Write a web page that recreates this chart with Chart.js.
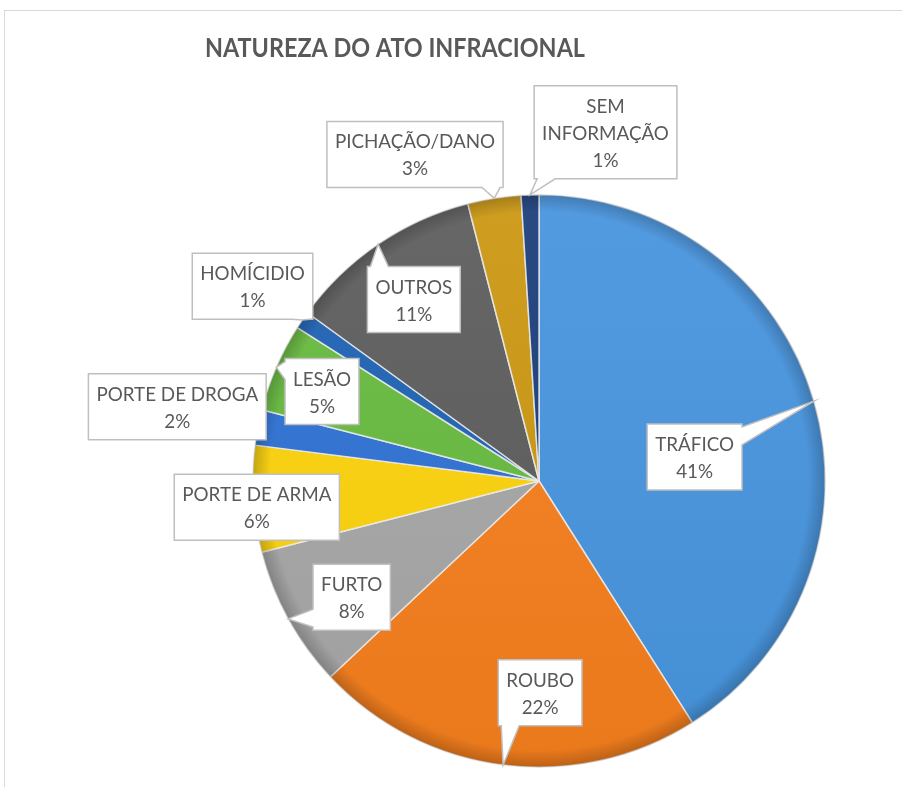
<!DOCTYPE html>
<html>
<head>
<meta charset="utf-8">
<script src="https://cdn.jsdelivr.net/npm/chart.js@4.4.1/dist/chart.umd.min.js"></script>
<style>
  html,body{margin:0;padding:0;background:#fff;overflow:hidden;}
  #wrap{position:relative;width:902px;height:787px;}
  #frame{position:absolute;left:4px;top:10px;width:1000px;height:1000px;border-left:1.5px solid #d9d9d9;border-top:1.5px solid #d9d9d9;box-sizing:border-box;}
  canvas{position:absolute;left:0;top:0;}
</style>
</head>
<body>
<div id="wrap">
  <div id="frame"></div>
  <canvas id="c" width="902" height="787"></canvas>
</div>
<script>
// ---- data ----
const chartTitle = 'NATUREZA DO ATO INFRACIONAL';
const categories = ['TRÁFICO','ROUBO','FURTO','PORTE DE ARMA','PORTE DE DROGA','LESÃO','HOMÍCIDIO','OUTROS','PICHAÇÃO/DANO','SEM INFORMAÇÃO'];
const percentages = [41,22,8,6,2,5,1,11,3,1];

// ---- styles / layout (not data) ----
const sliceColors = ['#4895df','#f67f1d','#a7a7a7','#fdd20c','#2f72d4','#68bb40','#1f63b4','#5d5d5d','#cc9812','#1b3e7b'];
const labelWrap = [false,false,false,false,false,false,false,false,false,true];
const calloutPlacement = [
  {dA: 7.4, r: 0.55},
  {dA: -7.5, r: 0.74},
  {dA: -3.0, r: 0.77},
  {dA: -1.7, r: 0.99},
  {dA: 0.8, r: 1.29},
  {dA: -1.0, r: 0.82},
  {dA: 0, r: 1.21},
  {dA: -0.4, r: 0.77},
  {dA: -11.8, r: 1.22},
  {dA: 12.6, r: 1.24}
];

function shade(hex, f){
  const n = parseInt(hex.slice(1),16);
  let r=(n>>16)&255,g=(n>>8)&255,b=n&255;
  if(f>0){r+= (255-r)*f; g+=(255-g)*f; b+=(255-b)*f;}
  else {r*=1+f; g*=1+f; b*=1+f;}
  return 'rgb('+Math.round(r)+','+Math.round(g)+','+Math.round(b)+')';
}

const titlePlugin = {
  id:'customTitle',
  afterDraw(chart){
    const ctx = chart.ctx;
    ctx.save();
    ctx.font = 'bold 26px Lato';
    ctx.fillStyle = '#595959';
    ctx.textAlign = 'left';
    ctx.textBaseline = 'alphabetic';
    const w = ctx.measureText(chartTitle).width;
    const targetW = 380;
    ctx.translate(205, 57);
    ctx.scale(targetW / w, 1);
    ctx.fillText(chartTitle, 0, 0);
    ctx.restore();
  }
};

const rimPlugin = {
  id:'rim',
  afterDatasetsDraw(chart){
    const arc = chart.getDatasetMeta(0).data[0];
    if(!arc) return;
    const {x,y,outerRadius:R} = arc.getProps(['x','y','outerRadius'], true);
    const ctx = chart.ctx;
    ctx.save();
    const g = ctx.createRadialGradient(x,y,R*0.94,x,y,R);
    g.addColorStop(0,'rgba(0,0,0,0)');
    g.addColorStop(1,'rgba(0,0,0,0.2)');
    ctx.beginPath();
    ctx.arc(x,y,R,0,Math.PI*2);
    ctx.fillStyle = g;
    ctx.fill();
    ctx.restore();
  }
};

const calloutPlugin = {
  id:'callouts',
  afterDraw(chart){
    const ctx = chart.ctx;
    const meta = chart.getDatasetMeta(0);
    const fontSize = 20, lineH = 27, padX = 8, padY = 6, wedge = 18;
    ctx.save();
    ctx.font = fontSize + 'px Lato';
    const sx = 0.94;
    meta.data.forEach((arc, i) => {
      const p = arc.getProps(['x','y','startAngle','endAngle','outerRadius'], true);
      const mid = (p.startAngle + p.endAngle)/2;
      const R = p.outerRadius;
      const pl = calloutPlacement[i];
      const a = mid + pl.dA*Math.PI/180;
      const cx = p.x + pl.r*R*Math.cos(a);
      const cy = p.y + pl.r*R*Math.sin(a);
      const tip = {x: p.x + R*Math.cos(mid), y: p.y + R*Math.sin(mid)};
      const lines = labelWrap[i] ? categories[i].split(' ') : [categories[i]];
      lines.push(percentages[i] + '%');
      let tw = 0;
      lines.forEach(l => tw = Math.max(tw, ctx.measureText(l).width*sx));
      const w = tw + padX*2, h = lines.length*lineH + padY*2;
      const x0 = cx - w/2, x1 = cx + w/2, y0 = cy - h/2, y1 = cy + h/2;
      const ex = tip.x < x0 ? x0 - tip.x : (tip.x > x1 ? tip.x - x1 : 0);
      const ey = tip.y < y0 ? y0 - tip.y : (tip.y > y1 ? tip.y - y1 : 0);
      let side = null;
      if (ex > 0 || ey > 0) {
        if (ex >= ey) side = tip.x < x0 ? 'left' : 'right';
        else side = tip.y < y0 ? 'top' : 'bottom';
      }
      const clamp = (v, lo, hi) => Math.max(lo, Math.min(hi, v));
      ctx.beginPath();
      ctx.moveTo(x0, y0);
      if (side === 'top') {
        const bx = clamp(tip.x, x0 + wedge/2 + 3, x1 - wedge/2 - 3);
        ctx.lineTo(bx - wedge/2, y0); ctx.lineTo(tip.x, tip.y); ctx.lineTo(bx + wedge/2, y0);
      }
      ctx.lineTo(x1, y0);
      if (side === 'right') {
        const by = clamp(tip.y, y0 + wedge/2 + 3, y1 - wedge/2 - 3);
        ctx.lineTo(x1, by - wedge/2); ctx.lineTo(tip.x, tip.y); ctx.lineTo(x1, by + wedge/2);
      }
      ctx.lineTo(x1, y1);
      if (side === 'bottom') {
        const bx = clamp(tip.x, x0 + wedge/2 + 3, x1 - wedge/2 - 3);
        ctx.lineTo(bx + wedge/2, y1); ctx.lineTo(tip.x, tip.y); ctx.lineTo(bx - wedge/2, y1);
      }
      ctx.lineTo(x0, y1);
      if (side === 'left') {
        const by = clamp(tip.y, y0 + wedge/2 + 3, y1 - wedge/2 - 3);
        ctx.lineTo(x0, by + wedge/2); ctx.lineTo(tip.x, tip.y); ctx.lineTo(x0, by - wedge/2);
      }
      ctx.closePath();
      ctx.fillStyle = '#ffffff';
      ctx.fill();
      ctx.lineWidth = 1.5;
      ctx.strokeStyle = '#bfbfbf';
      ctx.stroke();
      ctx.fillStyle = '#595959';
      ctx.textAlign = 'center';
      ctx.textBaseline = 'middle';
      lines.forEach((l, k) => {
        ctx.save();
        ctx.translate(cx, y0 + padY + lineH*(k + 0.5) + 1);
        ctx.scale(sx, 1);
        ctx.fillText(l, 0, 0);
        ctx.restore();
      });
    });
    ctx.restore();
  }
};

new Chart(document.getElementById('c'), {
  type: 'pie',
  data: {
    labels: categories,
    datasets: [{
      data: percentages,
      backgroundColor(ctx){
        const chart = ctx.chart;
        const area = chart.chartArea;
        if (!area) return sliceColors[ctx.dataIndex];
        const base = sliceColors[ctx.dataIndex];
        const g = chart.ctx.createLinearGradient(0, area.top, 0, area.bottom);
        g.addColorStop(0, shade(base, 0.06));
        g.addColorStop(1, shade(base, -0.05));
        return g;
      },
      borderColor: 'rgba(235,235,235,0.85)',
      borderWidth: 1.5
    }]
  },
  options: {
    responsive: false,
    animation: false,
    layout: { padding: { left: 252, right: 76, top: 193, bottom: 18 } },
    plugins: {
      legend: { display: false },
      tooltip: { enabled: false },
      title: { display: false }
    }
  },
  plugins: [rimPlugin, calloutPlugin, titlePlugin]
});
</script>
</body>
</html>
